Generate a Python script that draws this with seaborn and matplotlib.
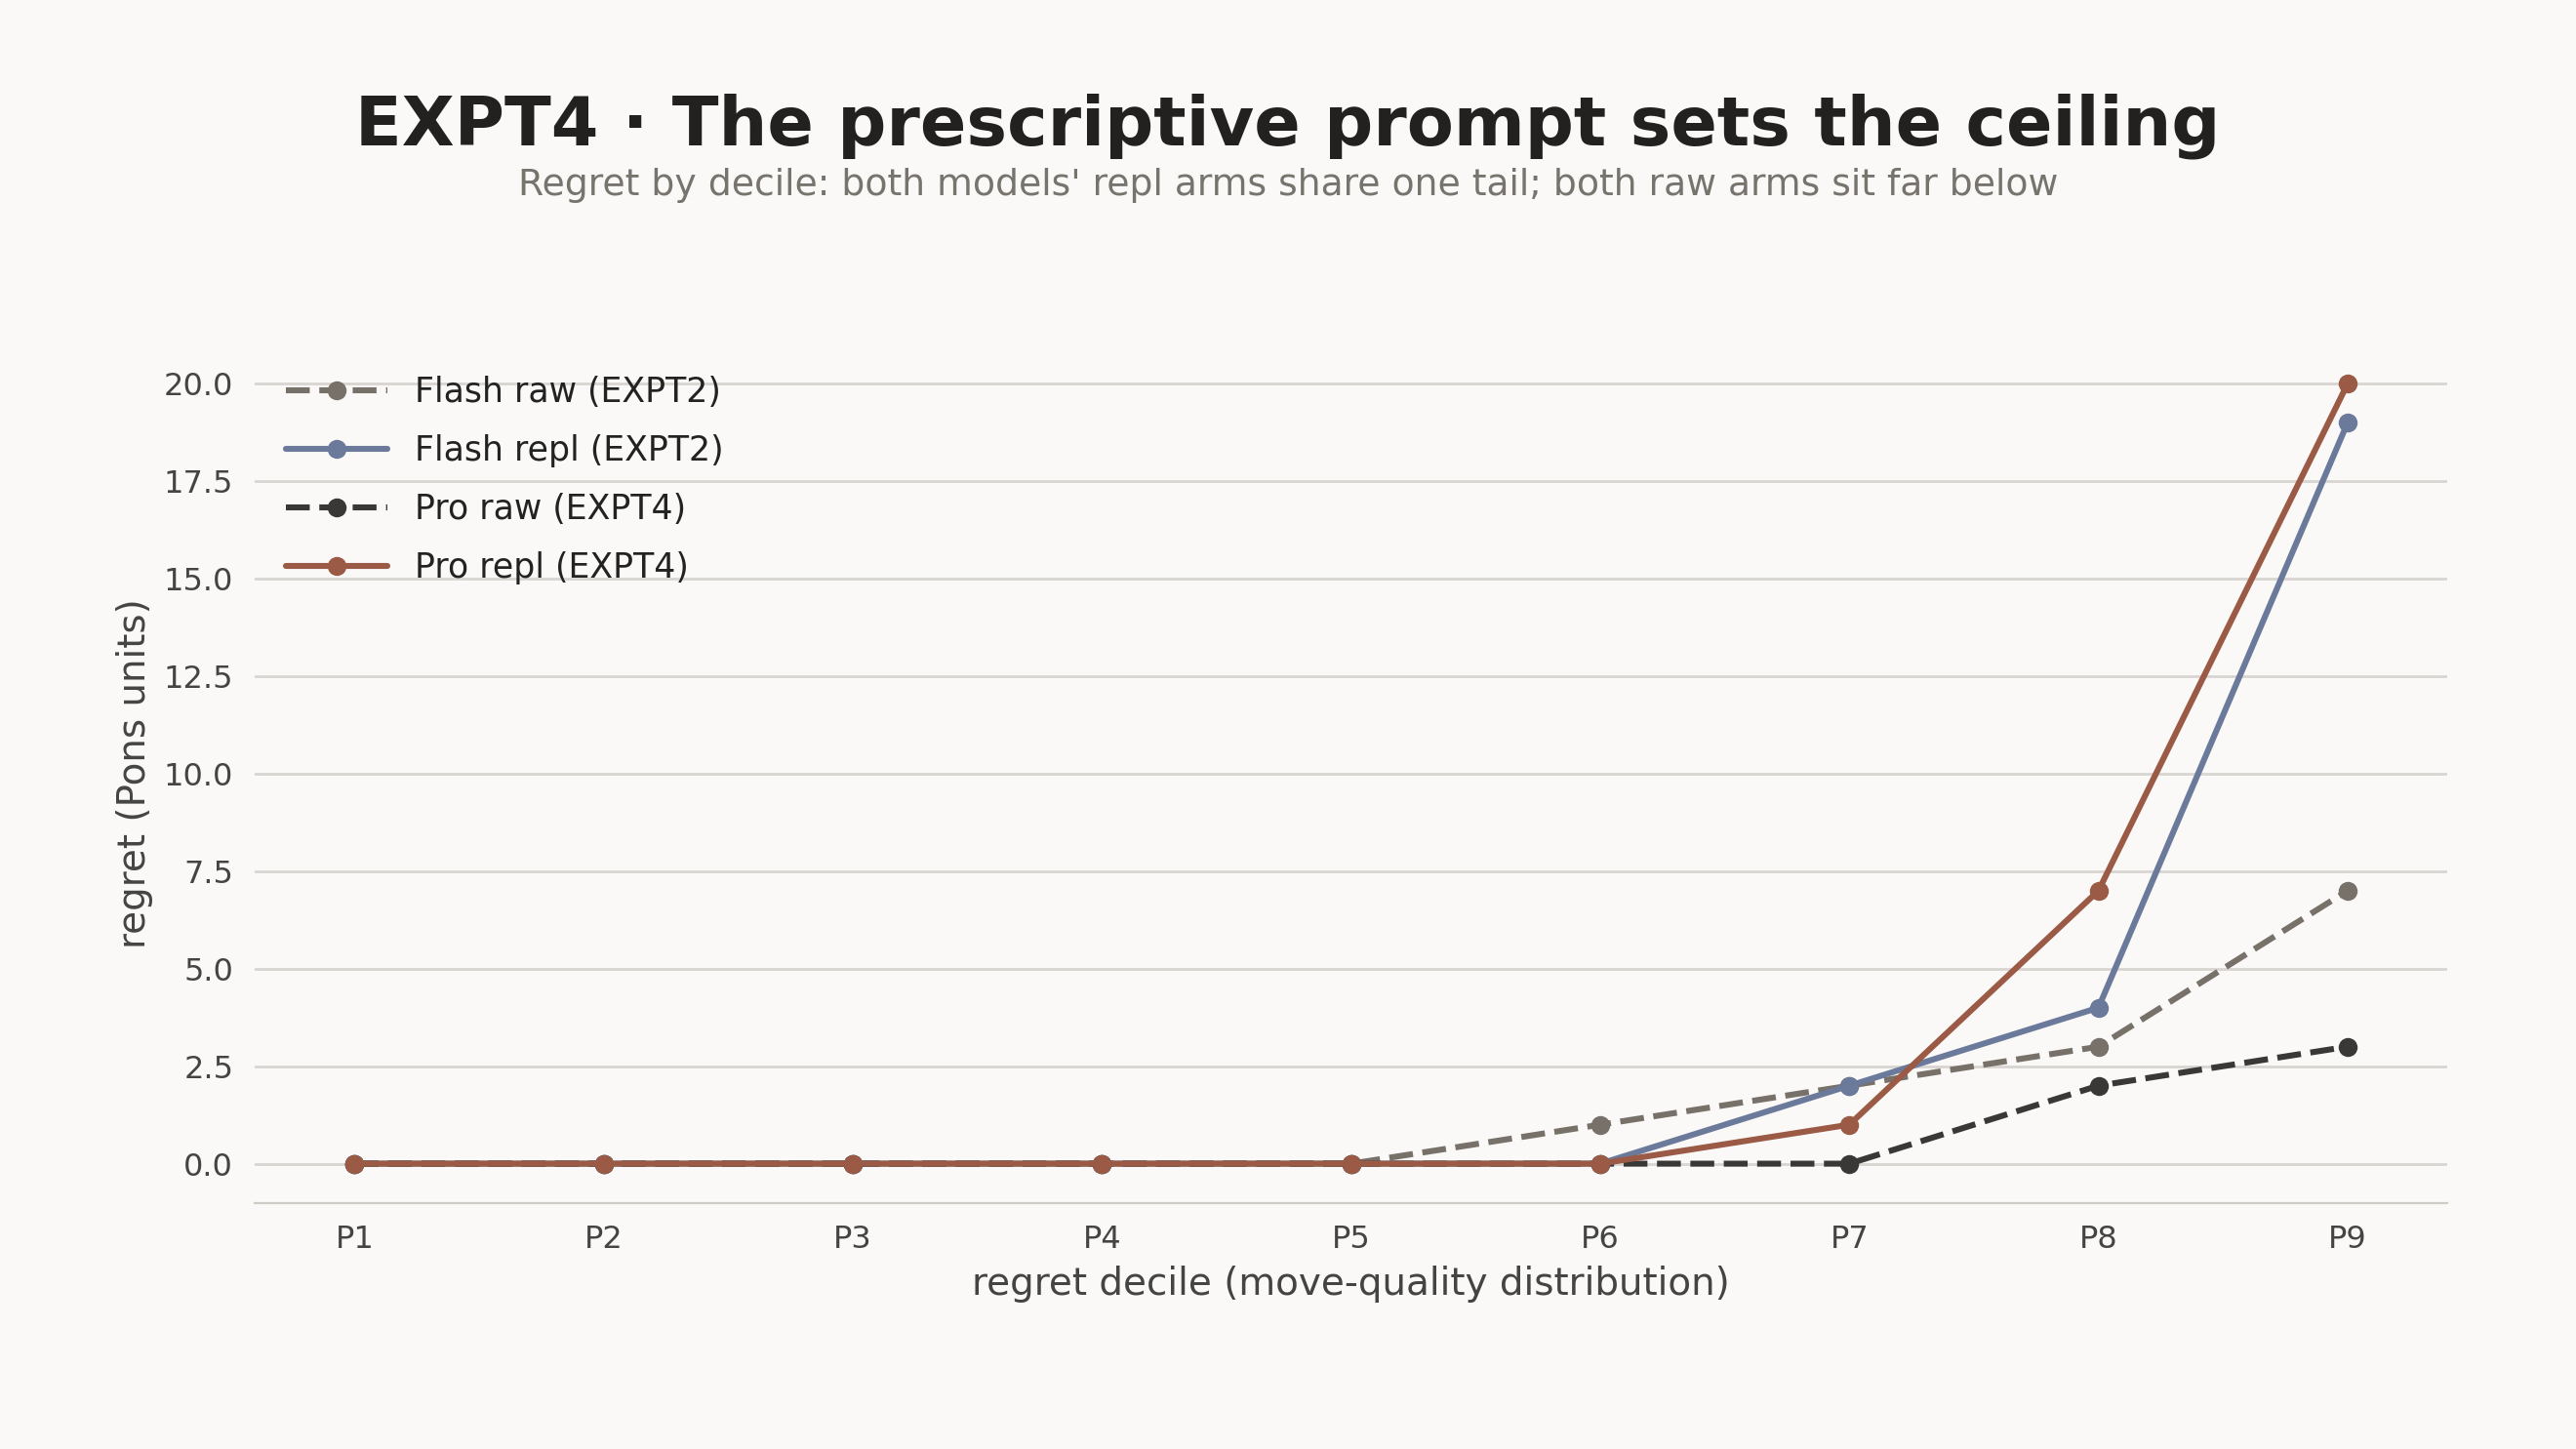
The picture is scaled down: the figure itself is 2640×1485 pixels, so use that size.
import matplotlib
matplotlib.use("Agg")
import matplotlib.pyplot as plt
import seaborn as sns
import pandas as pd

deciles = ["P1","P2","P3","P4","P5","P6","P7","P8","P9"]
flash_raw = [0,0,0,0,0,1,2,3,7]
flash_repl = [0,0,0,0,0,0,2,4,19]
pro_raw = [0,0,0,0,0,0,0,2,3]
pro_repl = [0,0,0,0,0,0,1,7,20]
series = ["Flash raw (EXPT2)","Flash repl (EXPT2)","Pro raw (EXPT4)","Pro repl (EXPT4)"]
colors = ["#78716a","#6b7a9b","#393836","#9a5a45"]
dashed = [True, False, True, False]

rows = []
for name, vals in zip(series, [flash_raw, flash_repl, pro_raw, pro_repl]):
    for d, v in zip(deciles, vals):
        rows.append({"decile": d, "regret": v, "series": name})
df = pd.DataFrame(rows)

sns.set_style("white")
bg = "#faf9f7"
fig = plt.figure(figsize=(13.2, 7.425), dpi=200, facecolor=bg)
ax = fig.add_axes([0.099, 0.17, 0.851, 0.592])
ax.set_facecolor(bg)
sns.lineplot(data=df, x="decile", y="regret", hue="series", style="series",
             palette=dict(zip(series, colors)),
             dashes={s: ((4, 1.6) if d else "") for s, d in zip(series, dashed)},
             markers={s: "o" for s in series}, markersize=7, markeredgewidth=0,
             linewidth=2.2, ax=ax, sort=False)
ax.set_ylim(-1, 21)
ax.set_yticks([0, 2.5, 5, 7.5, 10, 12.5, 15, 17.5, 20])
ax.set_yticklabels([f"{v:.1f}" for v in [0, 2.5, 5, 7.5, 10, 12.5, 15, 17.5, 20]])
ax.set_xlim(-0.4, 8.4)
ax.yaxis.grid(True, color="#d8d5d1", linewidth=1)
for s in ["top", "right", "left"]:
    ax.spines[s].set_visible(False)
ax.spines["bottom"].set_color("#cfccc8")
ax.tick_params(axis="both", labelsize=11.5, colors="#444444", length=0, pad=8)
ax.set_xlabel("regret decile (move-quality distribution)", fontsize=14, color="#444444")
ax.set_ylabel("regret (Pons units)", fontsize=14, color="#444444")
leg = ax.legend(loc="upper left", frameon=False, fontsize=12.5, handlelength=3,
                labelspacing=0.75, bbox_to_anchor=(0.0, 1.0))
for t in leg.get_texts():
    t.set_color("#222222")
fig.text(0.5, 0.9, "EXPT4 · The prescriptive prompt sets the ceiling", ha="center",
         fontsize=25.2, fontweight="bold", color="#222120")
fig.text(0.5, 0.865, "Regret by decile: both models' repl arms share one tail; both raw arms sit far below",
         ha="center", fontsize=13.6, color="#77736d")
fig.savefig("out.png", dpi=200, facecolor=bg)
